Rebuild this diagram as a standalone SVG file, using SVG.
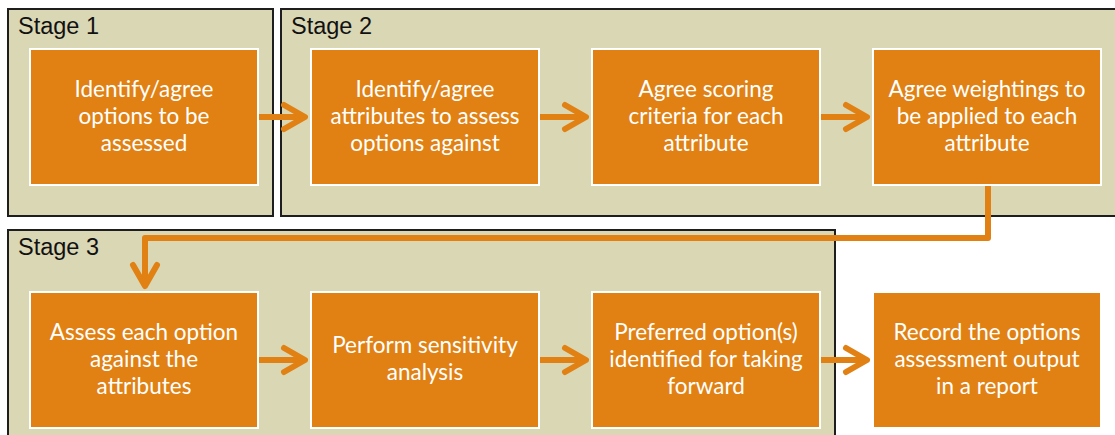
<svg xmlns="http://www.w3.org/2000/svg" width="1115" height="435" viewBox="0 0 1115 435">
  <defs>
    <style>
      .stage { fill: #DAD7B5; stroke: #1E1E1E; stroke-width: 2; }
      .stage-label { font-family: "Liberation Sans", Arial, sans-serif; font-size: 23.5px; fill: #111; }
      .box { fill: #E18113; stroke: #FFFFFF; stroke-width: 2; }
      .box-text { font-family: Lato, "Open Sans", sans-serif; font-size: 22.5px; fill: #FFFFFF; text-anchor: middle; }
      .flow { fill: none; stroke: #E18113; stroke-width: 6; stroke-linejoin: round; }
      .head { fill: none; stroke: #E18113; stroke-width: 6; stroke-linecap: round; stroke-linejoin: round; }
    </style>
  </defs>
  <rect width="1115" height="435" fill="#FFFFFF"/>

  <!-- stage panels -->
  <g id="stage-1">
    <rect class="stage" x="8" y="9" width="265" height="207"/>
    <text class="stage-label" x="18" y="34">Stage 1</text>
  </g>
  <g id="stage-2">
    <rect class="stage" x="281" y="9" width="840" height="207"/>
    <text class="stage-label" x="291" y="34">Stage 2</text>
  </g>
  <g id="stage-3">
    <rect class="stage" x="8" y="230" width="827" height="215"/>
    <text class="stage-label" x="18" y="255">Stage 3</text>
  </g>

  <!-- process steps -->
  <g id="identify-options">
    <rect class="box" x="30" y="49" width="228" height="136"/>
    <text class="box-text" x="144" y="97">Identify/agree</text>
    <text class="box-text" x="144" y="124">options to be</text>
    <text class="box-text" x="144" y="151">assessed</text>
  </g>
  <g id="identify-attributes">
    <rect class="box" x="311" y="49" width="228" height="136"/>
    <text class="box-text" x="425" y="97">Identify/agree</text>
    <text class="box-text" x="425" y="124">attributes to assess</text>
    <text class="box-text" x="425" y="151">options against</text>
  </g>
  <g id="scoring-criteria">
    <rect class="box" x="592" y="49" width="228" height="136"/>
    <text class="box-text" x="706" y="97">Agree scoring</text>
    <text class="box-text" x="706" y="124">criteria for each</text>
    <text class="box-text" x="706" y="151">attribute</text>
  </g>
  <g id="weightings">
    <rect class="box" x="873" y="49" width="228" height="136"/>
    <text class="box-text" x="987" y="97">Agree weightings to</text>
    <text class="box-text" x="987" y="124">be applied to each</text>
    <text class="box-text" x="987" y="151">attribute</text>
  </g>
  <g id="assess-options">
    <rect class="box" x="30" y="292" width="228" height="136"/>
    <text class="box-text" x="144" y="340">Assess each option</text>
    <text class="box-text" x="144" y="367">against the</text>
    <text class="box-text" x="144" y="394">attributes</text>
  </g>
  <g id="sensitivity">
    <rect class="box" x="311" y="292" width="228" height="136"/>
    <text class="box-text" x="425" y="353">Perform sensitivity</text>
    <text class="box-text" x="425" y="380">analysis</text>
  </g>
  <g id="preferred-options">
    <rect class="box" x="592" y="292" width="228" height="136"/>
    <text class="box-text" x="706" y="340">Preferred option(s)</text>
    <text class="box-text" x="706" y="367">identified for taking</text>
    <text class="box-text" x="706" y="394">forward</text>
  </g>
  <g id="record-report">
    <rect class="box" x="873" y="292" width="228" height="136"/>
    <text class="box-text" x="987" y="340">Record the options</text>
    <text class="box-text" x="987" y="367">assessment output</text>
    <text class="box-text" x="987" y="394">in a report</text>
  </g>

  <!-- connectors -->
  <g id="connectors">
    <line class="flow" x1="259" y1="117" x2="304" y2="117"/>
    <polyline class="head" points="284,105 305,117 284,129"/>
    <line class="flow" x1="540" y1="117" x2="585" y2="117"/>
    <polyline class="head" points="565,105 586,117 565,129"/>
    <line class="flow" x1="821" y1="117" x2="866" y2="117"/>
    <polyline class="head" points="846,105 867,117 846,129"/>

    <polyline class="flow" points="988,186 988,238 145,238 145,284"/>
    <polyline class="head" points="133,265 145,286 157,265"/>

    <line class="flow" x1="259" y1="360" x2="304" y2="360"/>
    <polyline class="head" points="284,348 305,360 284,372"/>
    <line class="flow" x1="540" y1="360" x2="585" y2="360"/>
    <polyline class="head" points="565,348 586,360 565,372"/>
    <line class="flow" x1="821" y1="360" x2="866" y2="360"/>
    <polyline class="head" points="846,348 867,360 846,372"/>
  </g>
</svg>
